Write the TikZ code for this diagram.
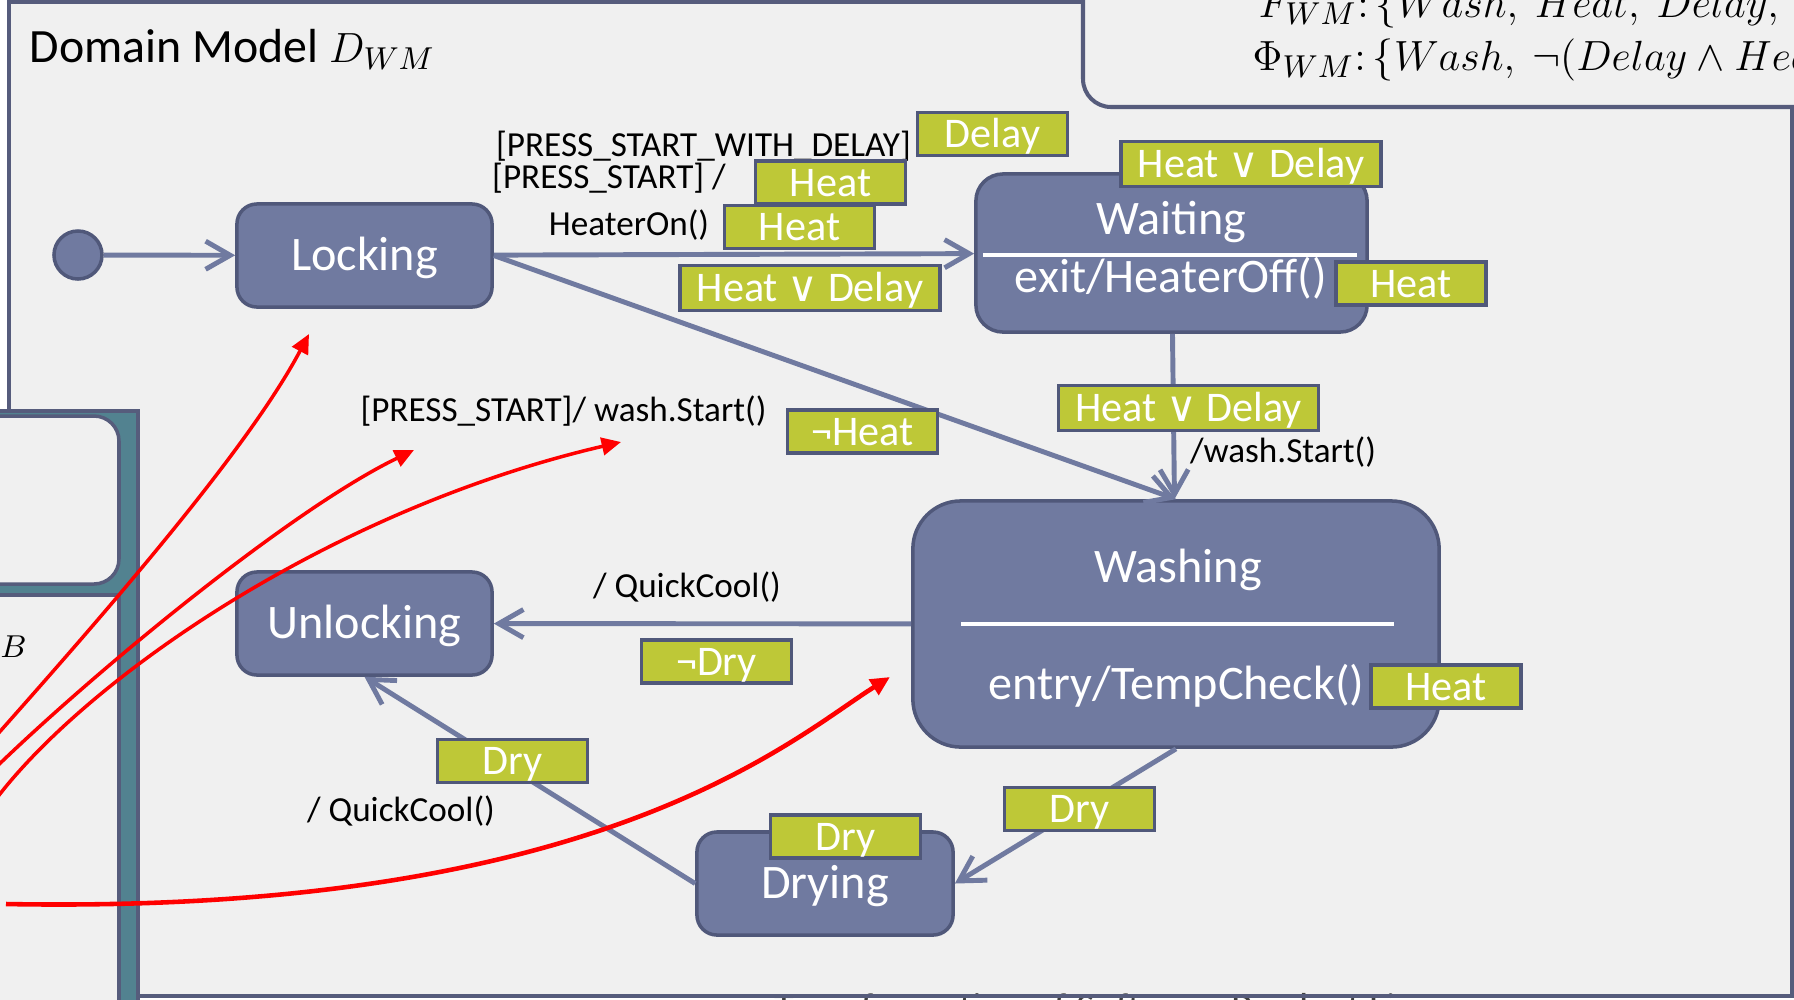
\documentclass[tikz,border=0pt]{standalone}
\usepackage{fontspec}
\setmainfont{Carlito}
\newfontfamily\symbolfont{DejaVu Sans}
\usetikzlibrary{positioning,arrows.meta}

\definecolor{slidegray}{RGB}{240,240,240}
\definecolor{framecol}{RGB}{86,92,124}
\definecolor{statecol}{RGB}{112,122,160}
\definecolor{stateedge}{RGB}{80,88,122}
\definecolor{tagcol}{RGB}{190,200,55}
\definecolor{tealcol}{RGB}{82,130,144}

\newcommand{\orsym}{{\symbolfont ∨}}

\begin{document}
\begin{tikzpicture}[x=0.01cm,y=-0.01cm,
    statebox/.style={draw=stateedge,line width=1pt,fill=statecol,text=white,
      font=\fontsize{13.7}{16}\selectfont,text height=8.8pt,text depth=0pt,
      minimum width=2.55cm,minimum height=1.03cm,rounded corners=2mm},
    statetext/.style={text=white,font=\fontsize{13.7}{16}\selectfont,
      text height=8.8pt,text depth=0pt,inner sep=0pt},
    startdot/.style={circle,draw=stateedge,line width=1pt,fill=statecol,minimum size=0.48cm},
    tag/.style={draw=stateedge,line width=1pt,fill=tagcol,text=white,
      font=\fontsize{12}{14}\selectfont,text height=7.7pt,text depth=0pt,
      inner sep=0pt,minimum width=1.5cm,minimum height=0.43cm},
    widetag/.style={tag,minimum width=2.6cm,minimum height=0.45cm},
    guard/.style={font=\fontsize{10}{12}\selectfont,inner sep=0pt},
    trans/.style={draw=statecol,line width=1.4pt,-{Straight Barb[length=7pt,width=8pt]}},
    hint/.style={red,line width=1pt,-{Triangle[length=5.5pt,width=5pt]}}]

  % slide background and frames
  \fill[white] (0,0) rectangle (1794,999);
  \useasboundingbox (0,0) rectangle (1794,999);
  \clip (0,0) rectangle (1794,999);
  \fill[slidegray] (9,2) rectangle (1792,996);
  \node[anchor=north west,inner sep=0pt,text=black!75,font=\fontsize{11.5}{13}\selectfont] (footer) at (774,993) {Transformation of Software Product Lines};
  \draw[framecol,line width=1.15pt] (9,2) rectangle (1792,996);

  \draw[framecol,line width=1.15pt,fill=slidegray,rounded corners=0.28cm] (1083,-60) rectangle (1860,107);
  \node[anchor=base west,inner sep=0pt,font=\fontsize{12.4}{14}\selectfont] (features) at (1258,17) {$F_{WM}{:}\,\{Wash,\ Heat,\ Delay,\ Dry\}$};
  \node[anchor=base west,inner sep=0pt,font=\fontsize{12.4}{14}\selectfont] (formula) at (1252,70) {$\Phi_{WM}{:}\,\{Wash,\ \neg(Delay\wedge Heat)\}$};

  % base model panel on the left
  \draw[framecol,line width=1pt,fill=tealcol] (-20,411) rectangle (138,1020);
  \draw[framecol,line width=1pt,fill=slidegray,rounded corners=0.25cm] (-40,416) rectangle (119,584);
  \draw[framecol,line width=1pt,fill=slidegray] (-40,595) rectangle (119,1020);
  \node[anchor=base east,inner sep=0pt,font=\fontsize{12.5}{14}\selectfont] (basename) at (29,650) {$D_B$};

  \node[anchor=base west,inner sep=0pt,font=\fontsize{13.6}{16}\selectfont] (title) at (29,62) {Domain Model \fontsize{12.2}{14}\selectfont$D_{WM}$};

  % states
  \node[startdot] (start) at (78,255) {};
  \node[statebox] (locking) at (364.5,255.5) {Locking};
  \node[statebox,minimum width=3.91cm,minimum height=1.58cm,rounded corners=2.7mm] (waiting) at (1171.5,253) {};
  \node[statebox,minimum width=5.26cm,minimum height=2.46cm,rounded corners=4.8mm] (washing) at (1176,624) {};
  \node[statebox] (unlocking) at (364.5,623.5) {Unlocking};
  \node[statebox,minimum width=2.56cm] (drying) at (825,883.5) {Drying};

  \node[statetext] (waitname) at (1171.5,219) {Waiting};
  \node[statetext] (waitexit) at (1171,277.5) {exit/HeaterOff()};
  \draw[white,line width=1pt] (983,255) -- (1357,255);
  \node[statetext] (washname) at (1178,567.5) {Washing};
  \node[statetext] (washentry) at (1176.5,684) {entry/TempCheck()};
  \draw[white,line width=1pt] (961,624) -- (1394,624);

  % transitions
  \draw[trans] (start) -- (locking);
  \draw[trans] (locking) -- (waiting);
  \draw[trans] (locking.east) -- (washing.north);
  \draw[trans] (waiting) -- (washing);
  \draw[trans] (washing) -- (unlocking);
  \draw[trans] (washing.south) -- (drying.east);
  \draw[trans] (drying.west) -- (unlocking.south);

  \node[guard] (g1) at (703.5,146) {[PRESS\_START\_WITH\_DELAY]};
  \node[guard] (g2) at (609,178) {[PRESS\_START] /};
  \node[guard] (g3) at (629,225) {HeaterOn()};
  \node[guard] (g4) at (563.5,411) {[PRESS\_START]/ wash.Start()};
  \node[guard] (g5) at (1283,452) {/wash.Start()};
  \node[guard] (g6) at (687,587) {/ QuickCool()};
  \node[guard] (g7) at (401,811) {/ QuickCool()};

  % feature annotations
  \node[tag] (tDelay) at (992.5,134) {Delay};
  \node[tag] (tHeatA) at (830.5,182.5) {Heat};
  \node[tag] (tHeatB) at (799.5,227) {Heat};
  \node[widetag] (tHDa) at (810,288) {Heat \orsym{} Delay};
  \node[widetag] (tHDb) at (1251,164) {Heat \orsym{} Delay};
  \node[tag] (tHeatC) at (1411,283.5) {Heat};
  \node[tag] (tNotHeat) at (862.5,431.5) {¬Heat};
  \node[widetag] (tHDc) at (1188.5,408) {Heat \orsym{} Delay};
  \node[tag] (tHeatD) at (1446,686.5) {Heat};
  \node[tag] (tNotDry) at (716.5,661.5) {¬Dry};
  \node[tag] (tDryA) at (512.5,761) {Dry};
  \node[tag] (tDryB) at (1079.5,809) {Dry};
  \node[tag] (tDryC) at (845.5,836.5) {Dry};

  % mapping arrows from the base model
  \coordinate (a0) at (-12,745);
  \coordinate (a1) at (309,334);
  \coordinate (b0) at (-12,775);
  \coordinate (b1) at (414,450);
  \coordinate (c0) at (-12,810);
  \coordinate (c1) at (621,442);
  \coordinate (d0) at (6,904);
  \coordinate (d1) at (890,677);
  \draw[hint] (a0) .. controls (90,630) and (245,455) .. (a1);
  \draw[hint] (b0) .. controls (90,675) and (290,510) .. (b1);
  \draw[hint] (c0) .. controls (72,690) and (320,512) .. (c1);
  \draw[hint,line width=1.3pt] (d0) .. controls (600,915) and (790,740) .. (d1);
\end{tikzpicture}
\end{document}
